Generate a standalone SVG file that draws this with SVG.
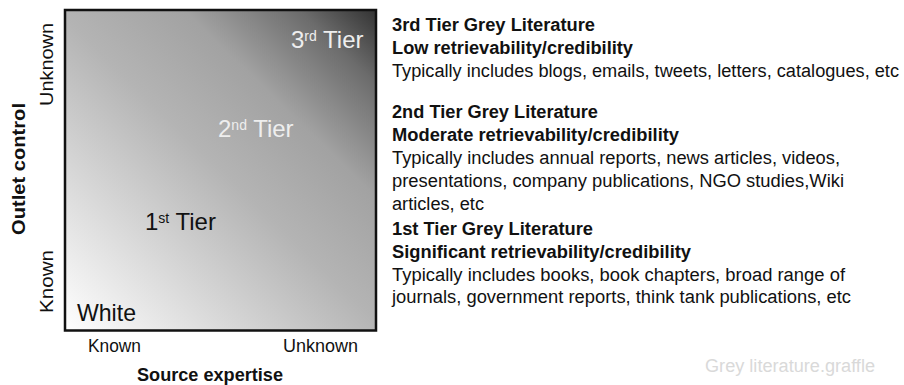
<svg xmlns="http://www.w3.org/2000/svg" width="904" height="385" viewBox="0 0 904 385">
  <style>
    text { font-family: "Liberation Sans", Arial, sans-serif; fill: #111111; }
    .tier { font-size: 24px; }
    .sup { font-size: 14px; }
    .axis { font-size: 18px; }
    .axis-title { font-size: 18px; font-weight: bold; }
    .head { font-size: 18px; font-weight: bold; }
    .body { font-size: 18px; }
    .light { fill: #eeeeee; }
    .mark { font-size: 18px; fill: #d9d9d9; }
  </style>
  <defs>
    <linearGradient id="shade" gradientUnits="userSpaceOnUse" x1="65" y1="330" x2="376" y2="10">
      <stop offset="0" stop-color="#ffffff"/>
      <stop offset="0.5" stop-color="#b4b4b4"/>
      <stop offset="0.7" stop-color="#a2a2a2"/>
      <stop offset="0.88" stop-color="#6c6c6c"/>
      <stop offset="1" stop-color="#333333"/>
    </linearGradient>
  </defs>

  <!-- Tier matrix -->
  <g id="matrix">
    <rect x="65" y="10" width="311" height="320.5" fill="url(#shade)" stroke="#111111" stroke-width="2.5"/>
  </g>

  <g id="tier3">
    <text class="tier light" x="291" y="48">3<tspan class="sup" dy="-7">rd</tspan><tspan dy="7"> Tier</tspan></text>
  </g>
  <g id="tier2">
    <text class="tier light" x="218" y="137">2<tspan class="sup" dy="-7">nd</tspan><tspan dy="7"> Tier</tspan></text>
  </g>
  <g id="tier1">
    <text class="tier" x="145" y="230">1<tspan class="sup" dy="-7">st</tspan><tspan dy="7"> Tier</tspan></text>
  </g>
  <g id="white">
    <text class="tier" x="77" y="321" textLength="59" lengthAdjust="spacingAndGlyphs">White</text>
  </g>

  <!-- Axes -->
  <g id="x-axis">
    <text class="axis" x="88" y="352" textLength="53" lengthAdjust="spacingAndGlyphs">Known</text>
    <text class="axis" x="283" y="352" textLength="75" lengthAdjust="spacingAndGlyphs">Unknown</text>
    <text class="axis-title" x="210" y="381" text-anchor="middle" textLength="146" lengthAdjust="spacingAndGlyphs">Source expertise</text>
  </g>
  <g id="y-axis">
    <text class="axis" transform="translate(53,106) rotate(-90)" x="0" y="0" textLength="83" lengthAdjust="spacingAndGlyphs">Unknown</text>
    <text class="axis" transform="translate(53,313) rotate(-90)" x="0" y="0" textLength="63" lengthAdjust="spacingAndGlyphs">Known</text>
    <text class="axis-title" transform="translate(25,235) rotate(-90)" x="0" y="0" textLength="132" lengthAdjust="spacingAndGlyphs">Outlet control</text>
  </g>

  <!-- Descriptions -->
  <g id="desc-tier3">
    <text class="head" x="392" y="31" textLength="203" lengthAdjust="spacingAndGlyphs">3rd Tier Grey Literature</text>
    <text class="head" x="392" y="54" textLength="241" lengthAdjust="spacingAndGlyphs">Low retrievability/credibility</text>
    <text class="body" x="392" y="77" textLength="507" lengthAdjust="spacingAndGlyphs">Typically includes blogs, emails, tweets, letters, catalogues, etc</text>
  </g>
  <g id="desc-tier2">
    <text class="head" x="392" y="118" textLength="206" lengthAdjust="spacingAndGlyphs">2nd Tier Grey Literature</text>
    <text class="head" x="392" y="141" textLength="287" lengthAdjust="spacingAndGlyphs">Moderate retrievability/credibility</text>
    <text class="body" x="392" y="164" textLength="448" lengthAdjust="spacingAndGlyphs">Typically includes annual reports, news articles, videos,</text>
    <text class="body" x="392" y="187" textLength="452" lengthAdjust="spacingAndGlyphs">presentations, company publications, NGO studies,Wiki</text>
    <text class="body" x="392" y="210" textLength="92" lengthAdjust="spacingAndGlyphs">articles, etc</text>
  </g>
  <g id="desc-tier1">
    <text class="head" x="392" y="235" textLength="201" lengthAdjust="spacingAndGlyphs">1st Tier Grey Literature</text>
    <text class="head" x="392" y="258" textLength="299" lengthAdjust="spacingAndGlyphs">Significant retrievability/credibility</text>
    <text class="body" x="392" y="281" textLength="453" lengthAdjust="spacingAndGlyphs">Typically includes books, book chapters, broad range of</text>
    <text class="body" x="392" y="303" textLength="459" lengthAdjust="spacingAndGlyphs">journals, government reports, think tank publications, etc</text>
  </g>

  <g id="filename">
    <text class="mark" x="705" y="372" textLength="170" lengthAdjust="spacingAndGlyphs">Grey literature.graffle</text>
  </g>
</svg>
